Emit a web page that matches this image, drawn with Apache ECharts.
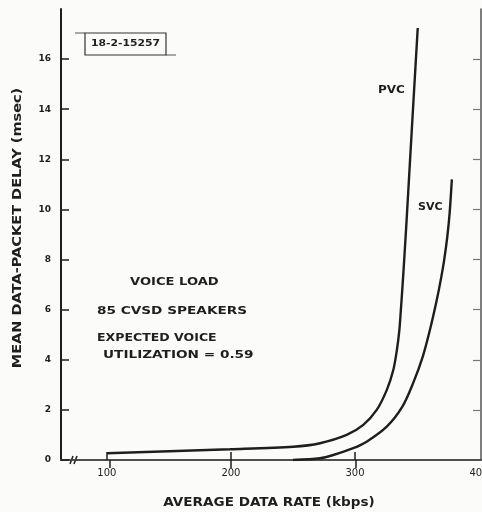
<!DOCTYPE html>
<html>
<head>
<meta charset="utf-8">
<script src="https://cdn.jsdelivr.net/npm/echarts@6/dist/echarts.min.js"></script>
<style>
  html, body { margin: 0; padding: 0; background: #fbfbfa; }
  #chart { width: 482px; height: 512px; }
</style>
</head>
<body>
<div id="chart"></div>
<script>
// Average data rate (kbps) and mean data-packet delay (msec) per circuit type
const pvcRate  = [100, 199.2, 250.2, 271.8, 293.3, 306.7, 317.5, 325.6, 330.9, 333.8, 335.8, 337.0, 338.8, 341.3, 344.4, 347.2, 350.6];
const pvcDelay = [0.27, 0.43, 0.53, 0.67, 1.0, 1.40, 2.0, 2.79, 3.59, 4.39, 5.19, 5.99, 7.30, 9.30, 11.97, 14.37, 17.24];
const svcRate  = [250, 271.8, 282.5, 298.6, 309.4, 325.6, 338.2, 346.8, 354.6, 360.4, 365.9, 369.2, 371.9, 374.4, 376.3, 378.1];
const svcDelay = [0, 0.07, 0.2, 0.47, 0.73, 1.33, 2.13, 3.06, 4.12, 5.19, 6.38, 7.20, 7.98, 8.90, 9.84, 11.20];

const xTickValues = [100, 200, 300];
const xLabelValues = [100, 200, 300, 400];
const yTickValues = [0, 2, 4, 6, 8, 10, 12, 14, 16];

const xName = 'AVERAGE DATA RATE (kbps)';
const yName = 'MEAN DATA-PACKET DELAY (msec)';
const notes = ['VOICE LOAD', '85 CVSD SPEAKERS', 'EXPECTED VOICE', 'UTILIZATION = 0.59'];
const figureId = '18-2-15257';

const ink = '#1e1e1e';
const font = '"DejaVu Sans", "Liberation Sans", sans-serif';

const pairs = (xs, ys) => xs.map((x, i) => [x, ys[i]]);

// widened bold text, the lettering on this figure is set wide
function wideText(text, x, y, size, stretch, extra) {
  return Object.assign({
    type: 'text', x: x, y: y, scaleX: stretch, scaleY: 1,
    style: { text: text, fill: ink, font: 'bold ' + size + 'px ' + font, textVerticalAlign: 'middle' }
  }, extra || {});
}

const chart = echarts.init(document.getElementById('chart'), null, { renderer: 'canvas' });

chart.setOption({
  backgroundColor: '#fbfbfa',
  animation: false,
  grid: { left: 61, right: 1, top: 9, bottom: 52, containLabel: false, outerBoundsMode: 'none' },
  xAxis: [{
    type: 'value', position: 'bottom', min: 63, max: 401.6,
    axisLine: { show: true, lineStyle: { color: '#444', width: 1.5 } },
    axisTick: { show: true, inside: true, length: 8, customValues: xTickValues, lineStyle: { color: ink, width: 1.5 } },
    axisLabel: { customValues: xLabelValues, color: ink, fontFamily: font, fontSize: 10, margin: 8 },
    splitLine: { show: false }
  }, {
    type: 'value', position: 'top', min: 63, max: 401.6,
    axisLine: { show: true, lineStyle: { color: '#444', width: 1.5 } },
    axisTick: { show: true, inside: true, length: 8, customValues: [102.5, 200, 301], lineStyle: { color: ink, width: 1.5 } },
    axisLabel: { show: false },
    splitLine: { show: false }
  }],
  yAxis: [{
    type: 'value', position: 'left', min: 0, max: 18,
    axisLine: { show: true, lineStyle: { color: ink, width: 2 } },
    axisTick: { show: true, inside: true, length: 8, customValues: yTickValues, lineStyle: { color: ink, width: 1.5 } },
    axisLabel: { customValues: yTickValues, color: ink, fontFamily: font, fontWeight: 'bold', fontSize: 9, margin: 10 },
    splitLine: { show: false }
  }, {
    type: 'value', position: 'right', min: 0, max: 18,
    axisLine: { show: true, lineStyle: { color: '#555', width: 1.5 } },
    axisTick: { show: true, inside: true, length: 8, customValues: [2, 4, 6, 8, 10, 12, 14, 16], lineStyle: { color: '#777', width: 1.2 } },
    axisLabel: { show: false },
    splitLine: { show: false }
  }],
  series: [{
    name: 'PVC', type: 'line', xAxisIndex: 0, yAxisIndex: 0,
    data: pairs(pvcRate, pvcDelay), smooth: 0.3, showSymbol: false,
    lineStyle: { color: ink, width: 2.4 }
  }, {
    name: 'SVC', type: 'line', xAxisIndex: 0, yAxisIndex: 0,
    data: pairs(svcRate, svcDelay), smooth: 0.3, showSymbol: false,
    lineStyle: { color: ink, width: 2.4 }
  }],
  graphic: [
    // axis titles
    wideText(xName, 269, 503, 12, 1.13, { style: { text: xName, fill: ink, font: 'bold 12px ' + font, textAlign: 'center', textVerticalAlign: 'middle' } }),
    wideText(yName, 18, 228, 12, 1.21, { rotation: Math.PI / 2, style: { text: yName, fill: ink, font: 'bold 12px ' + font, textAlign: 'center', textVerticalAlign: 'middle' } }),
    // axis break mark near the origin
    { type: 'line', shape: { x1: 70, y1: 464, x2: 73, y2: 456 }, style: { stroke: ink, lineWidth: 1.5 } },
    { type: 'line', shape: { x1: 74, y1: 464, x2: 77, y2: 456 }, style: { stroke: ink, lineWidth: 1.5 } },
    // figure number box
    { type: 'rect', shape: { x: 85, y: 33, width: 81, height: 22 }, style: { fill: 'none', stroke: '#333', lineWidth: 1.2 } },
    { type: 'line', shape: { x1: 75, y1: 33, x2: 85, y2: 33 }, style: { stroke: '#555', lineWidth: 1 } },
    { type: 'line', shape: { x1: 166, y1: 55, x2: 176, y2: 55 }, style: { stroke: '#555', lineWidth: 1 } },
    wideText(figureId, 125.5, 44, 9, 1.2, { style: { text: figureId, fill: ink, font: 'bold 9px ' + font, textAlign: 'center', textVerticalAlign: 'middle' } }),
    // curve names
    wideText('PVC', 378, 90, 10, 1.2),
    wideText('SVC', 418, 207, 10, 1.1),
    // voice load annotation
    wideText(notes[0], 130, 282, 11, 1.19),
    wideText(notes[1], 97, 311, 11, 1.24),
    wideText(notes[2], 97, 338, 11, 1.14),
    wideText(notes[3], 103, 355, 11, 1.24)
  ]
});
</script>
</body>
</html>
